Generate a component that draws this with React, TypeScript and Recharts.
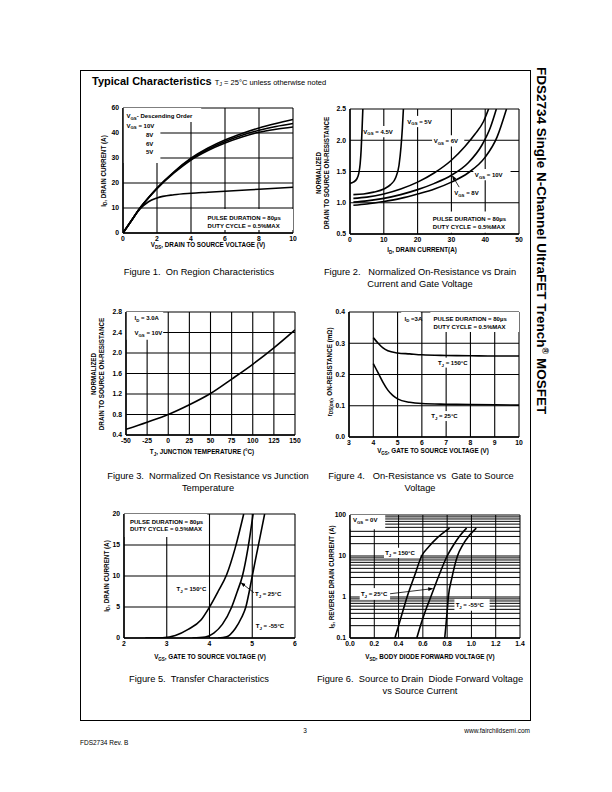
import React from 'react';
import { LineChart, Line, XAxis, YAxis, CartesianGrid, ReferenceArea, ReferenceLine } from 'recharts';

const FONT = '"Liberation Sans", Arial, Helvetica, sans-serif';

// Figure 1 - on region characteristics
const f1Vds = [0, 0.5, 1, 1.5, 2, 3, 4, 5, 6, 7, 8, 9, 10];
const f1Id10 = [0, 5, 10, 14.2, 18, 24.5, 29.9, 34, 37.2, 39.8, 42, 43.8, 45.4];
const f1Id8 = [0, 5, 10, 14.1, 17.9, 24.3, 29.6, 33.5, 36.6, 39.1, 41.1, 42.6, 43.8];
const f1Id6 = [0, 5, 10, 14, 17.7, 24, 29.2, 33, 36, 38.4, 40.3, 41.5, 42.4];
const f1Id5 = [0, 5, 9.6, 12.5, 14, 15.3, 15.9, 16.3, 16.7, 17.1, 17.5, 17.9, 18.3];
const f1XTicks = [0, 2, 4, 6, 8, 10];
const f1YTicks = [0, 10, 20, 30, 40, 50];
const f1YLabels = ['0', '10', '20', '30', '40', '60'];

// Figure 2 - normalized on-resistance vs drain current
const f2Id45 = [0, 1, 2, 2.6, 3.0, 3.3, 3.55, 3.8];
const f2R45 = [1.31, 1.33, 1.38, 1.47, 1.62, 1.85, 2.15, 2.5];
const f2Id5 = [1, 4, 7, 10, 12, 13.5, 14.5, 15.1, 15.5, 15.8];
const f2R5 = [1.13, 1.14, 1.17, 1.22, 1.29, 1.4, 1.6, 1.9, 2.2, 2.5];
const f2Id6 = [1, 5, 10, 15, 20, 25, 30, 34, 37, 39.5, 41];
const f2R6 = [1.07, 1.09, 1.14, 1.22, 1.33, 1.48, 1.68, 1.9, 2.1, 2.3, 2.5];
const f2Id8 = [1, 5, 10, 15, 20, 25, 30, 35, 39, 41.5, 43.3];
const f2R8 = [1.01, 1.03, 1.07, 1.13, 1.21, 1.31, 1.44, 1.64, 1.92, 2.2, 2.5];
const f2Id10 = [1, 5, 10, 15, 20, 25, 30, 35, 40, 43.5, 46.3];
const f2R10 = [0.96, 0.98, 1.02, 1.07, 1.14, 1.22, 1.33, 1.48, 1.73, 2.05, 2.5];
const f2XTicks = [0, 10, 20, 30, 40, 50];
const f2YTicks = [0.5, 1.0, 1.5, 2.0, 2.5];

// Figure 3 - normalized on-resistance vs junction temperature
const f3Tj = [-50, -25, 0, 25, 50, 75, 100, 125, 150];
const f3R = [0.51, 0.65, 0.8, 0.99, 1.21, 1.49, 1.78, 2.1, 2.45];
const f3XTicks = [-50, -25, 0, 25, 50, 75, 100, 125, 150];
const f3YTicks = [0.4, 0.8, 1.2, 1.6, 2.0, 2.4, 2.8];

// Figure 4 - on-resistance vs gate to source voltage
const f4Vgs150 = [4, 4.2, 4.4, 4.6, 5, 5.5, 6, 7, 8, 9, 10];
const f4R150 = [0.318, 0.3, 0.285, 0.276, 0.269, 0.266, 0.263, 0.261, 0.26, 0.259, 0.259];
const f4Vgs25 = [4, 4.2, 4.4, 4.6, 4.8, 5, 5.5, 6, 7, 8, 9, 10];
const f4R25 = [0.235, 0.205, 0.175, 0.15, 0.133, 0.122, 0.111, 0.107, 0.105, 0.104, 0.103, 0.102];
const f4XTicks = [3, 4, 5, 6, 7, 8, 9, 10];
const f4YTicks = [0, 0.1, 0.2, 0.3, 0.4];

// Figure 5 - transfer characteristics
const f5Vgs150 = [2.5, 2.9, 3.2, 3.5, 3.8, 4.0, 4.2, 4.4, 4.6, 4.8];
const f5Id150 = [0, 0.05, 0.4, 1.4, 2.9, 5, 7.5, 10.2, 14.5, 20];
const f5Vgs25 = [3.6, 3.9, 4.1, 4.3, 4.52, 4.65, 4.77, 4.9, 5.02];
const f5Id25 = [0, 0.15, 0.8, 2.2, 5, 7.5, 10, 14.5, 20];
const f5VgsM55 = [4.2, 4.4, 4.6, 4.75, 4.85, 4.93, 5.0, 5.13, 5.29];
const f5IdM55 = [0, 0.2, 1.5, 3.3, 5, 7.5, 10, 14.5, 20];
const f5XTicks = [2, 3, 4, 5, 6];
const f5YTicks = [0, 5, 10, 15, 20];

// Figure 6 - body diode forward voltage vs source current
const f6Vsd150 = [0.37, 0.4, 0.43, 0.47, 0.53, 0.59, 0.65, 0.72, 0.82];
const f6Is150 = [0.1, 0.2, 0.4, 1, 3.2, 10, 17, 28, 48];
const f6Vsd25 = [0.55, 0.58, 0.62, 0.665, 0.73, 0.8, 0.85, 0.9, 0.96];
const f6Is25 = [0.1, 0.2, 0.45, 1, 3.2, 10, 18, 30, 48];
const f6VsdM55 = [0.78, 0.79, 0.8, 0.81, 0.84, 0.885, 0.93, 0.98, 1.04];
const f6IsM55 = [0.1, 0.2, 0.45, 1, 3, 10, 19, 31, 48];
const f6XTicks = [0, 0.2, 0.4, 0.6, 0.8, 1.0, 1.2, 1.4];
const f6YTicks = [0.1, 0.2, 0.3, 0.4, 0.5, 0.6, 0.7, 0.8, 0.9, 1, 2, 3, 4, 5, 6, 7, 8, 9, 10, 20, 30, 40, 50, 60, 70, 80, 90, 100];
const f6Decades = [0.1, 1, 10, 100];

type Curve = { xs: number[]; ys: number[] };
type NoteLine = { dx: number; dy: number; t: React.ReactNode };
type Note = { x1: number; x2: number; y1: number; y2: number; lines?: NoteLine[] };
type Arrow = { x1: number; y1: number; x2: number; y2: number };

// text with a subscript part
function sb(a: string, s: string, b: string) {
  return (
    <>
      <tspan>{a}</tspan>
      <tspan dy={1.8} fontSize="0.72em">{s}</tspan>
      <tspan dy={-1.8}>{b}</tspan>
    </>
  );
}

const pulse = 'PULSE DURATION = 80µs';
const duty = 'DUTY CYCLE = 0.5%MAX';

interface PlotProps {
  left: number; top: number; w: number; h: number;
  xDomain: [number, number]; xTicks: number[]; xFmt?: (v: number) => string;
  yDomain: [number, number]; yTicks: number[]; yFmt?: (v: number) => string; yLog?: boolean;
  curves: Curve[];
  notes?: Note[];
  arrows?: Arrow[];
  xTitle: React.ReactNode; xTitleX: number; xTitleY: number;
  yTitle: React.ReactNode[]; yTitleX: number[]; yTitleY: number;
  gridWidth?: number;
}

function Plot(p: PlotProps) {
  const ML = 70, MT = 8, MR = 8, XH = 40;
  const W = p.w + ML + MR;
  const H = p.h + MT + XH;
  const ox = p.left - ML;
  const oy = p.top - MT;
  const tickStyle = { fontSize: 6.8, fontWeight: 700, fill: '#000', fontFamily: FONT };
  const titleStyle: React.CSSProperties = { fontSize: 6.3, fontWeight: 700, fill: '#000', fontFamily: FONT };
  const noteStyle: React.CSSProperties = { fontSize: 6, fontWeight: 700, fill: '#000', fontFamily: FONT };
  return (
    <div style={{ position: 'absolute', left: ox, top: oy, width: W, height: H }}>
      <LineChart width={W} height={H} margin={{ top: MT, right: MR, left: 0, bottom: 0 }}>
        <CartesianGrid stroke="#000" strokeWidth={p.gridWidth ?? 1.1} />
        <XAxis
          type="number"
          dataKey="x"
          domain={p.xDomain}
          ticks={p.xTicks}
          interval={0}
          allowDataOverflow
          height={XH}
          tickLine={false}
          tickSize={0}
          tickMargin={3}
          axisLine={{ stroke: '#000', strokeWidth: 1.4 }}
          tick={tickStyle}
          tickFormatter={p.xFmt}
          label={() => (
            <text x={p.xTitleX - ox} y={p.xTitleY - oy} textAnchor="middle" style={titleStyle}>
              {p.xTitle}
            </text>
          )}
        />
        <YAxis
          type="number"
          domain={p.yDomain}
          ticks={p.yTicks}
          scale={p.yLog ? 'log' : 'auto'}
          interval={0}
          allowDataOverflow
          width={ML}
          tickLine={false}
          tickSize={0}
          tickMargin={4}
          axisLine={{ stroke: '#000', strokeWidth: 1.4 }}
          tick={tickStyle}
          tickFormatter={p.yFmt}
          label={() => (
            <g>
              {p.yTitle.map((t, i) => (
                <text
                  key={i}
                  x={p.yTitleX[i] - ox}
                  y={p.yTitleY - oy}
                  transform={`rotate(-90 ${p.yTitleX[i] - ox} ${p.yTitleY - oy})`}
                  textAnchor="middle"
                  dominantBaseline="central"
                  style={titleStyle}
                >
                  {t}
                </text>
              ))}
            </g>
          )}
        />
        {(p.notes ?? []).map((n, i) => (
          <ReferenceArea
            key={`n${i}`}
            x1={n.x1}
            x2={n.x2}
            y1={n.y1}
            y2={n.y2}
            fill="#fff"
            fillOpacity={1}
            stroke="none"
            ifOverflow="visible"
            label={(lp: any) => {
              const vb = lp.viewBox || { x: 0, y: 0 };
              return (
                <g>
                  {(n.lines ?? []).map((l, j) => (
                    <text key={j} x={vb.x + l.dx} y={vb.y + l.dy} style={noteStyle}>
                      {l.t}
                    </text>
                  ))}
                </g>
              );
            }}
          />
        ))}
        {(p.arrows ?? []).map((a, i) => (
          <ReferenceLine
            key={`a${i}`}
            segment={[{ x: a.x1, y: a.y1 }, { x: a.x2, y: a.y2 }]}
            stroke="#000"
            strokeWidth={0.8}
            markerEnd="url(#arrowHead)"
            ifOverflow="visible"
          />
        ))}
        {p.curves.map((c, i) => (
          <Line
            key={`c${i}`}
            data={c.xs.map((x, k) => ({ x, y: c.ys[k] }))}
            dataKey="y"
            type="monotone"
            stroke="#000"
            strokeWidth={1.6}
            dot={false}
            activeDot={false}
            isAnimationActive={false}
          />
        ))}
      </LineChart>
    </div>
  );
}

const fix1 = (v: number) => v.toFixed(1);

export default function App() {
  const capStyle: React.CSSProperties = { fontSize: 9.3, fill: '#000', fontFamily: FONT, whiteSpace: 'pre' };
  const footStyle: React.CSSProperties = { fontSize: 6.5, fill: '#000', fontFamily: FONT };
  return (
    <div style={{ position: 'absolute', left: 0, top: 0, width: 612, height: 792, background: '#fff' }}>
      <svg width={612} height={792} style={{ position: 'absolute', left: 0, top: 0 }}>
        <defs>
          <marker id="arrowHead" viewBox="0 0 10 10" refX="9" refY="5" markerWidth="6" markerHeight="6" orient="auto">
            <path d="M0,1 L10,5 L0,9 z" fill="#000" />
          </marker>
        </defs>
        <rect x={80.5} y={70.5} width={450} height={650} fill="none" stroke="#000" strokeWidth={1} />
        <text x={92} y={84.5} style={{ fontFamily: FONT, fill: '#000', whiteSpace: 'pre' }}>
          <tspan fontSize={11} fontWeight={700}>Typical Characteristics </tspan>
          <tspan fontSize={7.5}>T</tspan>
          <tspan fontSize={5.5} dy={1.5}>J</tspan>
          <tspan fontSize={7.5} dy={-1.5}> = 25°C unless otherwise noted</tspan>
        </text>
        <text transform="translate(537,67) rotate(90)" style={{ fontFamily: FONT, fontSize: 13.5, fontWeight: 700, fill: '#000' }}>
          FDS2734 Single N-Channel UltraFET Trench
          <tspan fontSize={9} dy={-5}>®</tspan>
          <tspan dy={5}> MOSFET</tspan>
        </text>
        <text x={199} y={275} textAnchor="middle" style={capStyle}>Figure 1.  On Region Characteristics</text>
        <text x={420} y={275} textAnchor="middle" style={capStyle}>Figure 2.   Normalized On-Resistance vs Drain</text>
        <text x={420} y={287} textAnchor="middle" style={capStyle}>Current and Gate Voltage</text>
        <text x={208} y={479} textAnchor="middle" style={capStyle}>Figure 3.  Normalized On Resistance vs Junction</text>
        <text x={208} y={491} textAnchor="middle" style={capStyle}>Temperature</text>
        <text x={421} y={479} textAnchor="middle" style={capStyle}>Figure 4.   On-Resistance vs  Gate to Source</text>
        <text x={420} y={491} textAnchor="middle" style={capStyle}>Voltage</text>
        <text x={199} y={682} textAnchor="middle" style={capStyle}>Figure 5.  Transfer Characteristics</text>
        <text x={420} y={682} textAnchor="middle" style={capStyle}>Figure 6.  Source to Drain  Diode Forward Voltage</text>
        <text x={420} y={694} textAnchor="middle" style={capStyle}>vs Source Current</text>
        <text x={305} y={733} textAnchor="middle" style={footStyle}>3</text>
        <text x={530} y={733} textAnchor="end" style={footStyle}>www.fairchildsemi.com</text>
        <text x={80} y={745} style={footStyle}>FDS2734 Rev. B</text>
      </svg>

      <Plot
        left={123} top={108} w={170} h={125}
        xDomain={[0, 10]} xTicks={f1XTicks}
        yDomain={[0, 50]} yTicks={f1YTicks} yFmt={(v) => f1YLabels[f1YTicks.indexOf(v)]}
        curves={[
          { xs: f1Vds, ys: f1Id10 },
          { xs: f1Vds, ys: f1Id8 },
          { xs: f1Vds, ys: f1Id6 },
          { xs: f1Vds, ys: f1Id5 },
        ]}
        notes={[
          {
            x1: 0, x2: 2.2, y1: 28, y2: 50,
            lines: [
              { dx: 3.5, dy: 19.5, t: sb('V', 'GS', ' = 10V') },
              { dx: 23, dy: 29, t: '8V' },
              { dx: 23, dy: 37.5, t: '6V' },
              { dx: 23, dy: 46, t: '5V' },
            ],
          },
          { x1: 0, x2: 4.6, y1: 44.4, y2: 50, lines: [{ dx: 3.5, dy: 10, t: sb('V', 'GS', '- Descending Order') }] },
          { x1: 4.8, x2: 10, y1: 1.2, y2: 9.6, lines: [{ dx: 3, dy: 11, t: pulse }, { dx: 3, dy: 18.7, t: duty }] },
        ]}
        xTitle={sb('V', 'DS', ', DRAIN TO SOURCE VOLTAGE (V)')} xTitleX={208} xTitleY={247}
        yTitle={[sb('I', 'D', ', DRAIN CURRENT (A)')]} yTitleX={[103]} yTitleY={171}
      />

      <Plot
        left={350} top={109} w={169} h={125}
        xDomain={[0, 50]} xTicks={f2XTicks}
        yDomain={[0.5, 2.5]} yTicks={f2YTicks} yFmt={fix1}
        curves={[
          { xs: f2Id45, ys: f2R45 },
          { xs: f2Id5, ys: f2R5 },
          { xs: f2Id6, ys: f2R6 },
          { xs: f2Id8, ys: f2R8 },
          { xs: f2Id10, ys: f2R10 },
        ]}
        notes={[
          { x1: 3.5, x2: 14.5, y1: 2.05, y2: 2.23, lines: [{ dx: 1.5, dy: 7.8, t: sb('V', 'GS', ' = 4.5V') }] },
          { x1: 16.5, x2: 24.7, y1: 2.21, y2: 2.39, lines: [{ dx: 1.5, dy: 7.8, t: sb('V', 'GS', ' = 5V') }] },
          { x1: 24.3, x2: 33.8, y1: 1.9, y2: 2.08, lines: [{ dx: 1.5, dy: 7.8, t: sb('V', 'GS', ' = 6V') }] },
          { x1: 36.5, x2: 47.5, y1: 1.36, y2: 1.54, lines: [{ dx: 1.5, dy: 7.8, t: sb('V', 'GS', ' = 10V') }] },
          { x1: 30.4, x2: 38.8, y1: 1.07, y2: 1.25, lines: [{ dx: 1.5, dy: 7.8, t: sb('V', 'GS', ' = 8V') }] },
          { x1: 24, x2: 48, y1: 0.52, y2: 0.86, lines: [{ dx: 1.7, dy: 9.1, t: pulse }, { dx: 1.7, dy: 17.2, t: duty }] },
        ]}
        arrows={[{ x1: 32.3, y1: 1.25, x2: 30.3, y2: 1.43 }]}
        xTitle={sb('I', 'D', ', DRAIN CURRENT(A)')} xTitleX={422} xTitleY={252}
        yTitle={['NORMALIZED', 'DRAIN TO SOURCE ON-RESISTANCE']} yTitleX={[318, 326.5]} yTitleY={173}
      />

      <Plot
        left={126} top={312} w={169} h={123}
        xDomain={[-50, 150]} xTicks={f3XTicks}
        yDomain={[0.4, 2.8]} yTicks={f3YTicks} yFmt={fix1}
        curves={[{ xs: f3Tj, ys: f3R }]}
        notes={[
          {
            x1: -50, x2: -6, y1: 2.26, y2: 2.8,
            lines: [
              { dx: 8.5, dy: 8.4, t: sb('I', 'D', ' = 3.0A') },
              { dx: 8.5, dy: 22.7, t: sb('V', 'GS', ' = 10V') },
            ],
          },
        ]}
        xTitle={sb('T', 'J', ', JUNCTION TEMPERATURE (°C)')} xTitleX={202} xTitleY={454}
        yTitle={['NORMALIZED', 'DRAIN TO SOURCE ON-RESISTANCE']} yTitleX={[93, 101.5]} yTitleY={374}
      />

      <Plot
        left={349} top={312} w={170} h={125}
        xDomain={[3, 10]} xTicks={f4XTicks}
        yDomain={[0, 0.4]} yTicks={f4YTicks} yFmt={fix1}
        curves={[
          { xs: f4Vgs150, ys: f4R150 },
          { xs: f4Vgs25, ys: f4R25 },
        ]}
        notes={[
          { x1: 5.15, x2: 5.95, y1: 0.36, y2: 0.4, lines: [{ dx: 3.4, dy: 8.5, t: sb('I', 'D', ' =3A') }] },
          { x1: 6.35, x2: 10, y1: 0.336, y2: 0.4, lines: [{ dx: 3.2, dy: 9.1, t: pulse }, { dx: 3.2, dy: 16.6, t: duty }] },
          { x1: 6.6, x2: 7.85, y1: 0.222, y2: 0.254, lines: [{ dx: 1.5, dy: 7.2, t: sb('T', 'J', ' = 150°C') }] },
          { x1: 6.33, x2: 7.45, y1: 0.051, y2: 0.083, lines: [{ dx: 1.5, dy: 7.2, t: sb('T', 'J', ' = 25°C') }] },
        ]}
        xTitle={sb('V', 'GS', ', GATE TO SOURCE VOLTAGE (V)')} xTitleX={433} xTitleY={453}
        yTitle={[sb('r', 'DS(on)', ', ON-RESISTANCE (mΩ)')]} yTitleX={[329]} yTitleY={372}
      />

      <Plot
        left={124} top={514} w={171} h={124}
        xDomain={[2, 6]} xTicks={f5XTicks}
        yDomain={[0, 20]} yTicks={f5YTicks}
        curves={[
          { xs: f5Vgs150, ys: f5Id150 },
          { xs: f5Vgs25, ys: f5Id25 },
          { xs: f5VgsM55, ys: f5IdM55 },
        ]}
        notes={[
          { x1: 2, x2: 3.95, y1: 16.3, y2: 20, lines: [{ dx: 6, dy: 9.8, t: pulse }, { dx: 6, dy: 17.1, t: duty }] },
          { x1: 3.2, x2: 3.98, y1: 7.0, y2: 9.0, lines: [{ dx: 1.3, dy: 8.6, t: sb('T', 'J', ' = 150°C') }] },
          { x1: 5.04, x2: 5.8, y1: 6.1, y2: 8.1, lines: [{ dx: 1, dy: 8.4, t: sb('T', 'J', ' = 25°C') }] },
          { x1: 5.06, x2: 5.9, y1: 0.9, y2: 2.9, lines: [{ dx: 1, dy: 8.4, t: sb('T', 'J', ' = -55°C') }] },
        ]}
        arrows={[{ x1: 5.04, y1: 7.3, x2: 4.74, y2: 8.9 }]}
        xTitle={sb('V', 'GS', ', GATE TO SOURCE VOLTAGE (V)')} xTitleX={210} xTitleY={659}
        yTitle={[sb('I', 'D', ', DRAIN CURRENT (A)')]} yTitleX={[106]} yTitleY={576}
      />

      <Plot
        left={350} top={515} w={170} h={123}
        xDomain={[0, 1.4]} xTicks={f6XTicks} xFmt={fix1}
        yDomain={[0.1, 100]} yTicks={f6YTicks} yLog
        yFmt={(v) => (f6Decades.includes(v) ? String(v) : '')}
        gridWidth={1}
        curves={[
          { xs: f6Vsd150, ys: f6Is150 },
          { xs: f6Vsd25, ys: f6Is25 },
          { xs: f6VsdM55, ys: f6IsM55 },
        ]}
        notes={[
          { x1: 0, x2: 0.29, y1: 45, y2: 100, lines: [{ dx: 3, dy: 7.3, t: sb('V', 'GS', ' = 0V') }] },
          { x1: 0.28, x2: 0.58, y1: 9, y2: 16, lines: [{ dx: 1.2, dy: 7.4, t: sb('T', 'J', ' = 150°C') }] },
          { x1: 0.08, x2: 0.33, y1: 0.85, y2: 1.65, lines: [{ dx: 1.2, dy: 8.2, t: sb('T', 'J', ' = 25°C') }] },
          { x1: 0.86, x2: 1.15, y1: 0.46, y2: 0.9, lines: [{ dx: 1.2, dy: 8.1, t: sb('T', 'J', ' = -55°C') }] },
        ]}
        arrows={[{ x1: 0.33, y1: 1.2, x2: 0.68, y2: 1.6 }]}
        xTitle={sb('V', 'SD', ', BODY DIODE FORWARD VOLTAGE (V)')} xTitleX={430} xTitleY={659}
        yTitle={[sb('I', 'S', ', REVERSE DRAIN CURRENT (A)')]} yTitleX={[331]} yTitleY={577}
      />
    </div>
  );
}
